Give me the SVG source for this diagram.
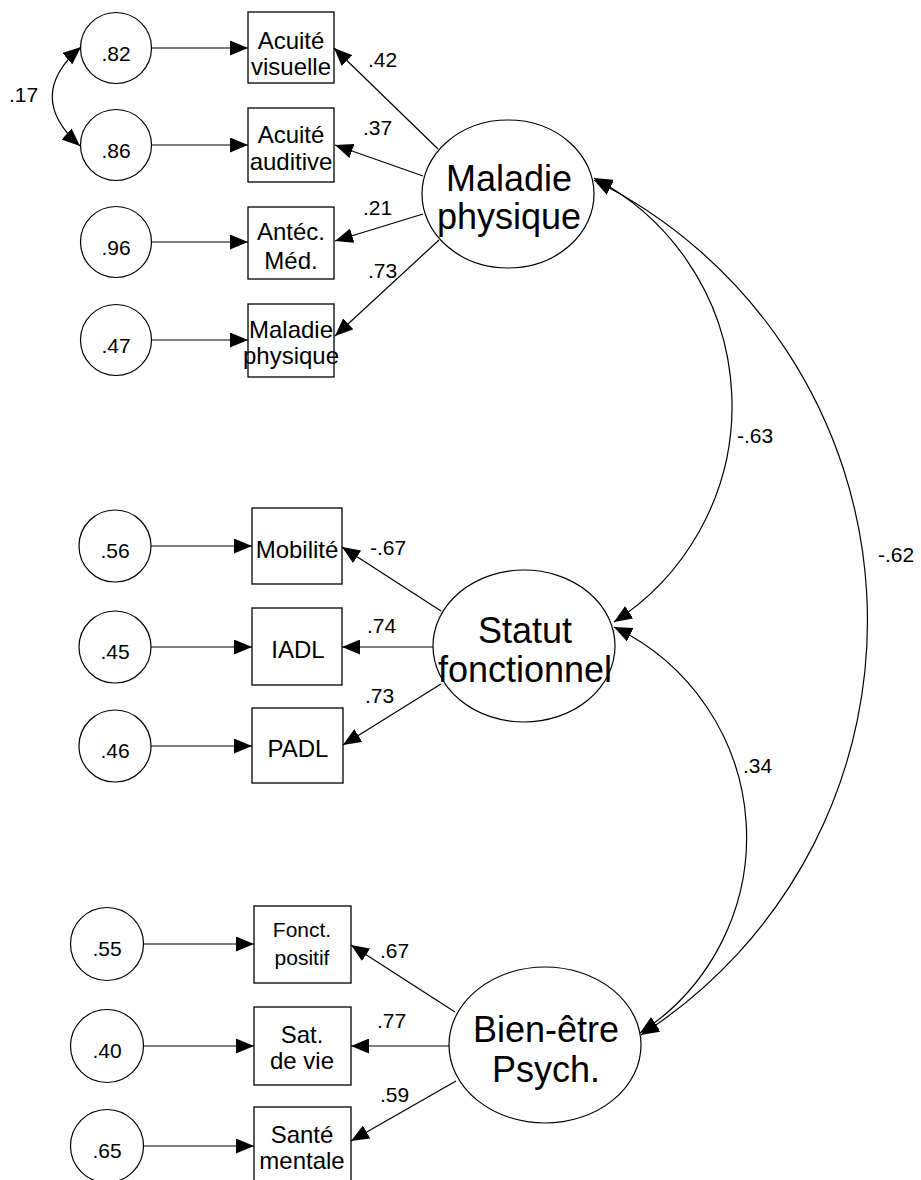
<svg xmlns="http://www.w3.org/2000/svg" width="921" height="1180" viewBox="0 0 921 1180">
  <style>
    text { font-family: "Liberation Sans", Arial, sans-serif; fill: #000; }
    .err circle { fill: #fff; stroke: #000; stroke-width: 1.2; }
    .err text { font-size: 21px; text-anchor: middle; }
    .obs rect { fill: #fff; stroke: #000; stroke-width: 1.3; }
    .obs text { font-size: 24px; text-anchor: middle; }
    .obs text.sm { font-size: 21px; }
    .lat ellipse { fill: #fff; stroke: #000; stroke-width: 1.2; }
    .lat text { font-size: 36px; text-anchor: middle; }
    .conn path, .conn line { fill: none; stroke: #000; stroke-width: 1.2; }
    .conn .arr { marker-end: url(#ah); }
    .conn .cov { marker-start: url(#ah); marker-end: url(#ah); }
    .lbl { font-size: 21px; }
  </style>
  <defs>
    <marker id="ah" markerUnits="userSpaceOnUse" markerWidth="18" markerHeight="15" viewBox="0 0 18 15" refX="18" refY="7.5" orient="auto-start-reverse">
      <path d="M0,0 L18,7.5 L0,15 z" fill="#000"/>
    </marker>
  </defs>

  <rect width="921" height="1180" fill="#fff"/>

  <!-- error terms -->
  <g id="e1" class="err"><circle cx="116" cy="48" r="35.5"/><text x="116" y="61">.82</text></g>
  <g id="e2" class="err"><circle cx="116" cy="145" r="35.5"/><text x="116" y="158">.86</text></g>
  <g id="e3" class="err"><circle cx="116" cy="242" r="35.5"/><text x="116" y="255">.96</text></g>
  <g id="e4" class="err"><circle cx="116" cy="340" r="35.5"/><text x="116" y="353">.47</text></g>
  <g id="e5" class="err"><circle cx="115" cy="546" r="36"/><text x="115" y="558">.56</text></g>
  <g id="e6" class="err"><circle cx="115" cy="647" r="36"/><text x="115" y="659">.45</text></g>
  <g id="e7" class="err"><circle cx="115" cy="746" r="36"/><text x="115" y="758">.46</text></g>
  <g id="e8" class="err"><circle cx="107" cy="944" r="36.5"/><text x="107" y="956">.55</text></g>
  <g id="e9" class="err"><circle cx="107" cy="1046" r="36.5"/><text x="107" y="1058">.40</text></g>
  <g id="e10" class="err"><circle cx="107" cy="1146" r="36.5"/><text x="107" y="1158">.65</text></g>

  <!-- observed indicators -->
  <g id="acuite-visuelle" class="obs"><rect x="248" y="12" width="86" height="71"/><text x="291" y="49">Acuité</text><text x="291" y="75">visuelle</text></g>
  <g id="acuite-auditive" class="obs"><rect x="248" y="108" width="86" height="74"/><text x="291" y="143">Acuité</text><text x="291" y="170">auditive</text></g>
  <g id="antec-med" class="obs"><rect x="248" y="207" width="86" height="72"/><text x="291" y="240">Antéc.</text><text x="291" y="269">Méd.</text></g>
  <g id="maladie-physique-ind" class="obs"><rect x="248" y="304" width="86" height="73"/><text x="291" y="338">Maladie</text><text x="291" y="364">physique</text></g>
  <g id="mobilite" class="obs"><rect x="252" y="508" width="90" height="76"/><text x="297" y="558">Mobilité</text></g>
  <g id="iadl" class="obs"><rect x="252" y="608" width="90" height="77"/><text x="298" y="658">IADL</text></g>
  <g id="padl" class="obs"><rect x="252" y="708" width="91" height="75"/><text x="298" y="757">PADL</text></g>
  <g id="fonct-positif" class="obs"><rect x="254" y="906" width="97" height="77"/><text class="sm" x="302" y="937">Fonct.</text><text class="sm" x="302" y="965">positif</text></g>
  <g id="sat-vie" class="obs"><rect x="254" y="1007" width="97" height="78"/><text x="302" y="1043">Sat.</text><text x="302" y="1069">de vie</text></g>
  <g id="sante-mentale" class="obs"><rect x="254" y="1107" width="97" height="80"/><text x="302" y="1143">Santé</text><text x="302" y="1169">mentale</text></g>

  <!-- latent factors -->
  <g id="maladie-physique" class="lat"><ellipse cx="508" cy="194" rx="86" ry="74"/><text x="509" y="191">Maladie</text><text x="509" y="229">physique</text></g>
  <g id="statut-fonctionnel" class="lat"><ellipse cx="524" cy="646" rx="91" ry="76"/><text x="525" y="643">Statut</text><text x="525" y="682">fonctionnel</text></g>
  <g id="bien-etre" class="lat"><ellipse cx="545" cy="1045" rx="96" ry="78"/><text x="546" y="1042">Bien-être</text><text x="546" y="1082">Psych.</text></g>

  <!-- paths, loadings and covariances -->
  <g id="connectors" class="conn">
    <!-- error terms to indicators -->
    <line class="arr" x1="152" y1="48" x2="248" y2="48"/>
    <line class="arr" x1="152" y1="145" x2="248" y2="145"/>
    <line class="arr" x1="152" y1="242" x2="248" y2="242"/>
    <line class="arr" x1="152" y1="340" x2="248" y2="340"/>
    <line class="arr" x1="151" y1="546" x2="252" y2="546"/>
    <line class="arr" x1="151" y1="647" x2="252" y2="647"/>
    <line class="arr" x1="151" y1="746" x2="252" y2="746"/>
    <line class="arr" x1="144" y1="944" x2="254" y2="944"/>
    <line class="arr" x1="144" y1="1046" x2="254" y2="1046"/>
    <line class="arr" x1="144" y1="1146" x2="254" y2="1146"/>

    <!-- loadings -->
    <line class="arr" x1="438" y1="149" x2="334" y2="48"/>
    <line class="arr" x1="423" y1="176" x2="335" y2="145"/>
    <line class="arr" x1="423" y1="214" x2="335" y2="241"/>
    <line class="arr" x1="439" y1="240" x2="335" y2="336"/>
    <line class="arr" x1="441" y1="611" x2="342" y2="547"/>
    <line class="arr" x1="433" y1="647" x2="342" y2="647"/>
    <line class="arr" x1="441" y1="684" x2="343" y2="745"/>
    <line class="arr" x1="455" y1="1012" x2="351" y2="945"/>
    <line class="arr" x1="449" y1="1046" x2="351" y2="1046"/>
    <line class="arr" x1="456" y1="1081" x2="351" y2="1141"/>

    <!-- covariances -->
    <path class="cov" d="M81,47 Q24,96 80,146"/>
    <path class="cov" d="M594,178 A257,257 0 0 1 614,622"/>
    <path class="cov" d="M614,627 A233,233 0 0 1 640,1033"/>
    <path class="cov" d="M594,180 A492,492 0 0 1 641,1035"/>
  </g>

  <!-- coefficients -->
  <g id="labels">
    <text class="lbl" x="9" y="102">.17</text>
    <text class="lbl" x="368" y="67">.42</text>
    <text class="lbl" x="363" y="135">.37</text>
    <text class="lbl" x="363" y="215">.21</text>
    <text class="lbl" x="368" y="278">.73</text>
    <text class="lbl" x="370" y="555">-.67</text>
    <text class="lbl" x="367" y="633">.74</text>
    <text class="lbl" x="365" y="703">.73</text>
    <text class="lbl" x="380" y="958">.67</text>
    <text class="lbl" x="377" y="1028">.77</text>
    <text class="lbl" x="380" y="1102">.59</text>
    <text class="lbl" x="737" y="443">-.63</text>
    <text class="lbl" x="743" y="773">.34</text>
    <text class="lbl" x="878" y="562">-.62</text>
  </g>
</svg>
